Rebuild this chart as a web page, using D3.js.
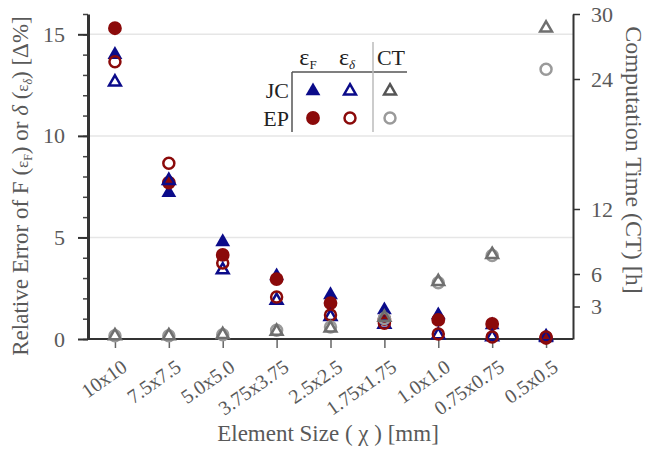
<!DOCTYPE html>
<html>
<head>
<meta charset="utf-8">
<script src="https://cdn.jsdelivr.net/npm/d3@7"></script>
<style>
  body { margin: 0; background: #fff; }
  text { font-family: "Liberation Serif", "DejaVu Serif", serif; fill: #595959; }
</style>
</head>
<body>
<div id="chart"></div>
<script>
// element sizes on the x axis
const sizes = ['10x10', '7.5x7.5', '5.0x5.0', '3.75x3.75', '2.5x2.5', '1.75x1.75', '1.0x1.0', '0.75x0.75', '0.5x0.5']

// relative errors [%], left axis
const jcEpsF = [14.0, 7.2, 4.78, 3.1, 2.17, 1.43, 1.18, 0.69, 0.05]
const epEpsF = [15.3, 7.7, 4.14, 2.95, 1.77, 0.98, 0.94, 0.74, 0.05]
const jcEpsD = [12.65, 7.8, 3.4, 1.9, 1.1, 0.72, 0.2, 0.1, 0.1]
const epEpsD = [13.65, 8.65, 3.74, 2.07, 1.18, 0.78, 0.25, 0.1, 0.1]

// computation time [h], right axis
const jcCT = [0.3, 0.3, 0.4, 0.7, 1.0, 2.0, 5.3, 7.8, 28.7]
const epCT = [0.3, 0.3, 0.4, 0.8, 1.1, 1.9, 5.2, 7.7, 24.9]

const leftTicks = [0, 5, 10, 15]
const rightTicks = [3, 6, 12, 24, 30]

const WIDTH = 649
const HEIGHT = 452
const NAVY = '#0b0b8a'
const RED = '#8b0a0a'

const svg = d3.select('#chart').append('svg')
  .attr('width', WIDTH)
  .attr('height', HEIGHT)

const mLeft = 88, mRight = 573, mTop = 14, mBottom = 339

const x = d3.scalePoint().domain(sizes).range([mLeft, mRight]).padding(0.5)
const yL = d3.scaleLinear().domain([0, 16]).range([mBottom, mTop])
const yR = d3.scaleLinear().domain([0, 30]).range([mBottom, mTop])

// grid
svg.append('g').selectAll('line').data([5, 10, 15]).enter().append('line')
  .attr('x1', mLeft).attr('x2', mRight)
  .attr('y1', d => yL(d)).attr('y2', d => yL(d))
  .attr('stroke', '#e6e6e6').attr('stroke-width', 1.5)

// bottom axis
const gx = svg.append('g').attr('transform', `translate(0,${mBottom})`)
  .call(d3.axisBottom(x).tickSize(9).tickSizeOuter(0))
gx.select('.domain').remove()
gx.selectAll('.tick line').attr('stroke', '#666').attr('stroke-width', 1.5)
gx.selectAll('.tick text')
  .style('font-size', '20px')
  .attr('text-anchor', 'end')
  .attr('dy', 0)
  .attr('y', 0)
  .attr('transform', 'translate(13,31) rotate(-35)')
svg.append('line').attr('x1', mLeft).attr('x2', mRight).attr('y1', mBottom).attr('y2', mBottom)
  .attr('stroke', '#333').attr('stroke-width', 2)

// left axis, minor then major
const gmin = svg.append('g').attr('transform', `translate(${mLeft},0)`)
  .call(d3.axisLeft(yL).tickValues(d3.range(0, 17)).tickSize(5).tickSizeOuter(0).tickFormat(''))
gmin.select('.domain').remove()
gmin.selectAll('.tick line').attr('stroke', '#444').attr('stroke-width', 1.5)

const gy = svg.append('g').attr('transform', `translate(${mLeft},0)`)
  .call(d3.axisLeft(yL).tickValues(leftTicks).tickSize(10).tickSizeOuter(0))
gy.select('.domain').attr('stroke', '#333').attr('stroke-width', 3)
gy.selectAll('.tick line').attr('stroke', '#333').attr('stroke-width', 2)
gy.selectAll('.tick text').style('font-size', '22px').attr('x', -23)

// right axis
const gr = svg.append('g').attr('transform', `translate(${mRight},0)`)
  .call(d3.axisRight(yR).tickValues(rightTicks).tickSize(7).tickSizeOuter(0))
gr.select('.domain').attr('stroke', '#333').attr('stroke-width', 2)
gr.selectAll('.tick line').attr('stroke', '#333').attr('stroke-width', 1.5)
gr.selectAll('.tick text').style('font-size', '22px').attr('x', 18)

// titles
const ttl = svg.append('text')
  .attr('transform', 'translate(28,186) rotate(-90)')
  .attr('text-anchor', 'middle')
  .style('font-size', '23px')
ttl.append('tspan').text('Relative Error of F (')
ttl.append('tspan').text('ε').style('font-size', '17px')
ttl.append('tspan').text('F').style('font-size', '12px').attr('dy', 4)
ttl.append('tspan').text(') or ').attr('dy', -4)
ttl.append('tspan').text('δ').style('font-style', 'italic')
ttl.append('tspan').text(' (')
ttl.append('tspan').text('ε').style('font-size', '17px')
ttl.append('tspan').text('δ').style('font-size', '12px').style('font-style', 'italic').attr('dy', 4)
ttl.append('tspan').text(') [Δ%]').attr('dy', -4)

svg.append('text')
  .attr('transform', 'translate(626,160) rotate(90)')
  .attr('text-anchor', 'middle')
  .style('font-size', '24px')
  .text('Computation Time (CT) [h]')

svg.append('text')
  .attr('x', 328).attr('y', 441)
  .attr('text-anchor', 'middle')
  .style('font-size', '23px')
  .text('Element Size ( χ ) [mm]')

// markers
const triFill = d3.symbol().type(d3.symbolTriangle).size(95)
const triOpen = d3.symbol().type(d3.symbolTriangle).size(60)
const cirFill = d3.symbol().type(d3.symbolCircle).size(150)
const cirOpen = d3.symbol().type(d3.symbolCircle).size(95)

function plot (vals, scale, sym, fill, stroke) {
  svg.append('g').selectAll('path').data(vals).enter().append('path')
    .attr('d', sym)
    .attr('transform', (d, i) => `translate(${x(sizes[i])},${scale(d)})`)
    .attr('fill', fill)
    .attr('stroke', stroke)
    .attr('stroke-width', stroke === 'none' ? 0 : 2.5)
}

plot(jcEpsF, yL, triFill, NAVY, 'none')
plot(epEpsF, yL, cirFill, RED, 'none')
plot(jcEpsD, yL, triOpen, 'none', NAVY)
plot(epEpsD, yL, cirOpen, 'none', RED)
plot(epCT, yR, cirOpen, 'none', '#9a9a9a')
plot(jcCT, yR, triOpen, 'none', '#6f6f6f')

// legend table
const lg = svg.append('g')
lg.append('line').attr('x1', 292).attr('x2', 407).attr('y1', 72).attr('y2', 72)
  .attr('stroke', '#555').attr('stroke-width', 1.5)
lg.append('line').attr('x1', 292).attr('x2', 292).attr('y1', 72).attr('y2', 132)
  .attr('stroke', '#555').attr('stroke-width', 1.5)
lg.append('line').attr('x1', 373).attr('x2', 373).attr('y1', 42).attr('y2', 132)
  .attr('stroke', '#bbb').attr('stroke-width', 1.5)

const h1 = lg.append('text').attr('x', 308).attr('y', 65).attr('text-anchor', 'middle').style('font-size', '24px').style('fill', '#222')
h1.append('tspan').text('ε')
h1.append('tspan').text('F').style('font-size', '13px').attr('dy', 4)
const h2 = lg.append('text').attr('x', 347).attr('y', 65).attr('text-anchor', 'middle').style('font-size', '24px').style('fill', '#222')
h2.append('tspan').text('ε')
h2.append('tspan').text('δ').style('font-size', '13px').style('font-style', 'italic').attr('dy', 4)
lg.append('text').attr('x', 391).attr('y', 65).attr('text-anchor', 'middle').style('font-size', '22px').style('fill', '#222').text('CT')
lg.append('text').attr('x', 289).attr('y', 98).attr('text-anchor', 'end').style('font-size', '22px').style('fill', '#222').text('JC')
lg.append('text').attr('x', 289).attr('y', 126).attr('text-anchor', 'end').style('font-size', '22px').style('fill', '#222').text('EP')

const legendMarks = [
  [313, 91, triFill, NAVY, 'none'], [350, 91, triOpen, 'none', NAVY], [390, 91, triOpen, 'none', '#555'],
  [313, 118, cirFill, RED, 'none'], [350, 118, cirOpen, 'none', RED], [390, 118, cirOpen, 'none', '#9a9a9a']
]
legendMarks.forEach(m => {
  lg.append('path').attr('d', m[2]).attr('transform', `translate(${m[0]},${m[1]})`)
    .attr('fill', m[3]).attr('stroke', m[4]).attr('stroke-width', m[4] === 'none' ? 0 : 2.5)
})
</script>
</body>
</html>
